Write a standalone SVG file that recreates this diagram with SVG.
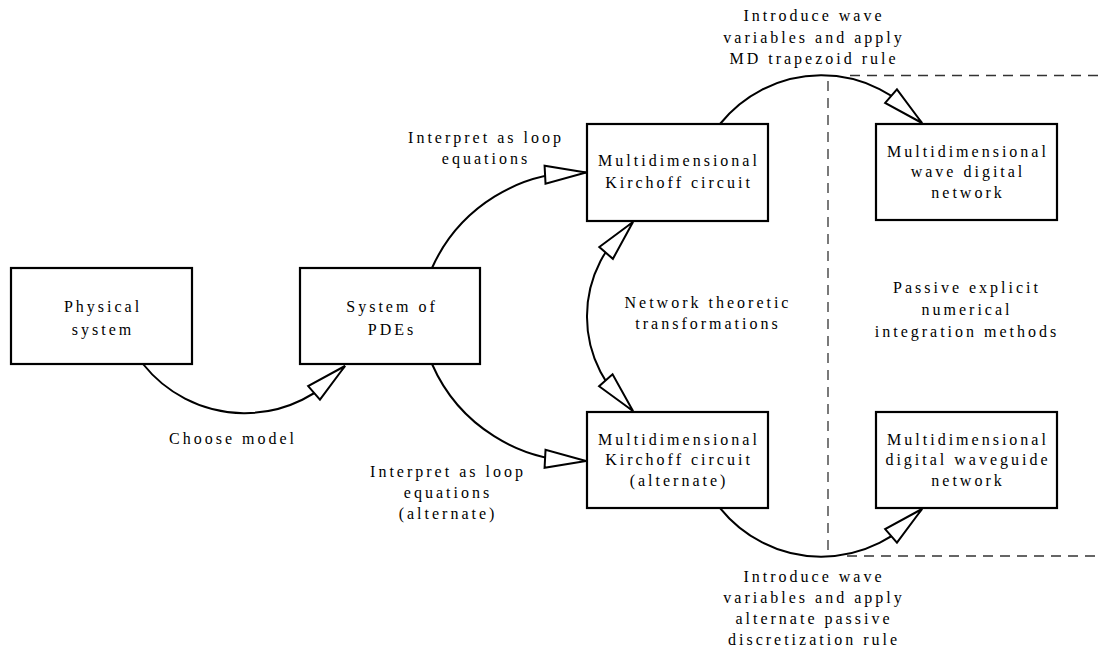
<svg xmlns="http://www.w3.org/2000/svg" xmlns:xlink="http://www.w3.org/1999/xlink" width="1100" height="650" viewBox="0 0 1100 650">
<style>
  .box { fill: #ffffff; stroke: #000000; stroke-width: 2.2; }
  .lbl { font-family: "Liberation Serif", "Times New Roman", serif; font-size: 16px; letter-spacing: 3px; fill: #000000; text-anchor: middle; }
  .edge { fill: none; stroke: #000000; stroke-width: 2; }
  .ah { fill: #ffffff; stroke: #000000; stroke-width: 2; stroke-linejoin: miter; }
  .dash { fill: none; stroke: #333333; stroke-width: 1.3; stroke-dasharray: 10 7; }
</style>
<defs>
  <path id="arrowhead" class="ah" d="M0,0 L-41,-9 L-41,9 Z"/>
</defs>
<rect width="1100" height="650" fill="#ffffff"/>

<g id="separators">
  <line class="dash" x1="828" y1="81" x2="828" y2="553"/>
  <line class="dash" x1="850" y1="75.5" x2="1100" y2="75.5"/>
  <line class="dash" x1="847" y1="556" x2="1100" y2="556"/>
</g>

<g id="connectors">
  <path class="edge" d="M143,364 A130,130 0 0,0 345,366"/>
  <use xlink:href="#arrowhead" transform="translate(345,366) rotate(-41)"/>

  <path class="edge" d="M432,268 A162,162 0 0,1 586,172.5"/>
  <use xlink:href="#arrowhead" transform="translate(586,172.5) rotate(-3)"/>

  <path class="edge" d="M432,364 A162,162 0 0,0 586,461"/>
  <use xlink:href="#arrowhead" transform="translate(586,461) rotate(3)"/>

  <path class="edge" d="M633,222 A120,120 0 0,0 633,411"/>
  <use xlink:href="#arrowhead" transform="translate(633,222) rotate(-49)"/>
  <use xlink:href="#arrowhead" transform="translate(633,411) rotate(48.5)"/>

  <path class="edge" d="M720,124 A130,130 0 0,1 922,123"/>
  <use xlink:href="#arrowhead" transform="translate(922,123) rotate(41)"/>

  <path class="edge" d="M720,508 A130,130 0 0,0 922,509"/>
  <use xlink:href="#arrowhead" transform="translate(922,509) rotate(-41)"/>
</g>

<g id="edge-labels">
  <text class="lbl" x="233" y="444">Choose model</text>
  <text class="lbl" x="486" y="143">Interpret as loop</text>
  <text class="lbl" x="486" y="164">equations</text>
  <text class="lbl" x="448" y="477">Interpret as loop</text>
  <text class="lbl" x="448" y="498">equations</text>
  <text class="lbl" x="448" y="519">(alternate)</text>
  <text class="lbl" x="708" y="308">Network theoretic</text>
  <text class="lbl" x="708" y="329">transformations</text>
  <text class="lbl" x="814" y="21">Introduce wave</text>
  <text class="lbl" x="814" y="42.5">variables and apply</text>
  <text class="lbl" x="814" y="64">MD trapezoid rule</text>
  <text class="lbl" x="814" y="582">Introduce wave</text>
  <text class="lbl" x="814" y="603">variables and apply</text>
  <text class="lbl" x="814" y="624">alternate passive</text>
  <text class="lbl" x="814" y="645">discretization rule</text>
  <text class="lbl" x="967" y="293">Passive explicit</text>
  <text class="lbl" x="967" y="315">numerical</text>
  <text class="lbl" x="967" y="337">integration methods</text>
</g>

<g id="physical-system">
  <rect class="box" x="11" y="268" width="181" height="96"/>
  <text class="lbl" x="103" y="312">Physical</text>
  <text class="lbl" x="103" y="335">system</text>
</g>

<g id="system-of-pdes">
  <rect class="box" x="300" y="268" width="180" height="96"/>
  <text class="lbl" x="392" y="312">System of</text>
  <text class="lbl" x="392" y="335">PDEs</text>
</g>

<g id="kirchoff-circuit">
  <rect class="box" x="587" y="124" width="181" height="97"/>
  <text class="lbl" x="679" y="166">Multidimensional</text>
  <text class="lbl" x="679" y="188">Kirchoff circuit</text>
</g>

<g id="kirchoff-circuit-alternate">
  <rect class="box" x="587" y="412" width="181" height="96"/>
  <text class="lbl" x="679" y="445">Multidimensional</text>
  <text class="lbl" x="679" y="465">Kirchoff circuit</text>
  <text class="lbl" x="679" y="486">(alternate)</text>
</g>

<g id="wave-digital-network">
  <rect class="box" x="876" y="124" width="181" height="96"/>
  <text class="lbl" x="968" y="157">Multidimensional</text>
  <text class="lbl" x="968" y="177">wave digital</text>
  <text class="lbl" x="968" y="198">network</text>
</g>

<g id="digital-waveguide-network">
  <rect class="box" x="876" y="412" width="181" height="96"/>
  <text class="lbl" x="968" y="445">Multidimensional</text>
  <text class="lbl" x="968" y="465">digital waveguide</text>
  <text class="lbl" x="968" y="486">network</text>
</g>
</svg>
